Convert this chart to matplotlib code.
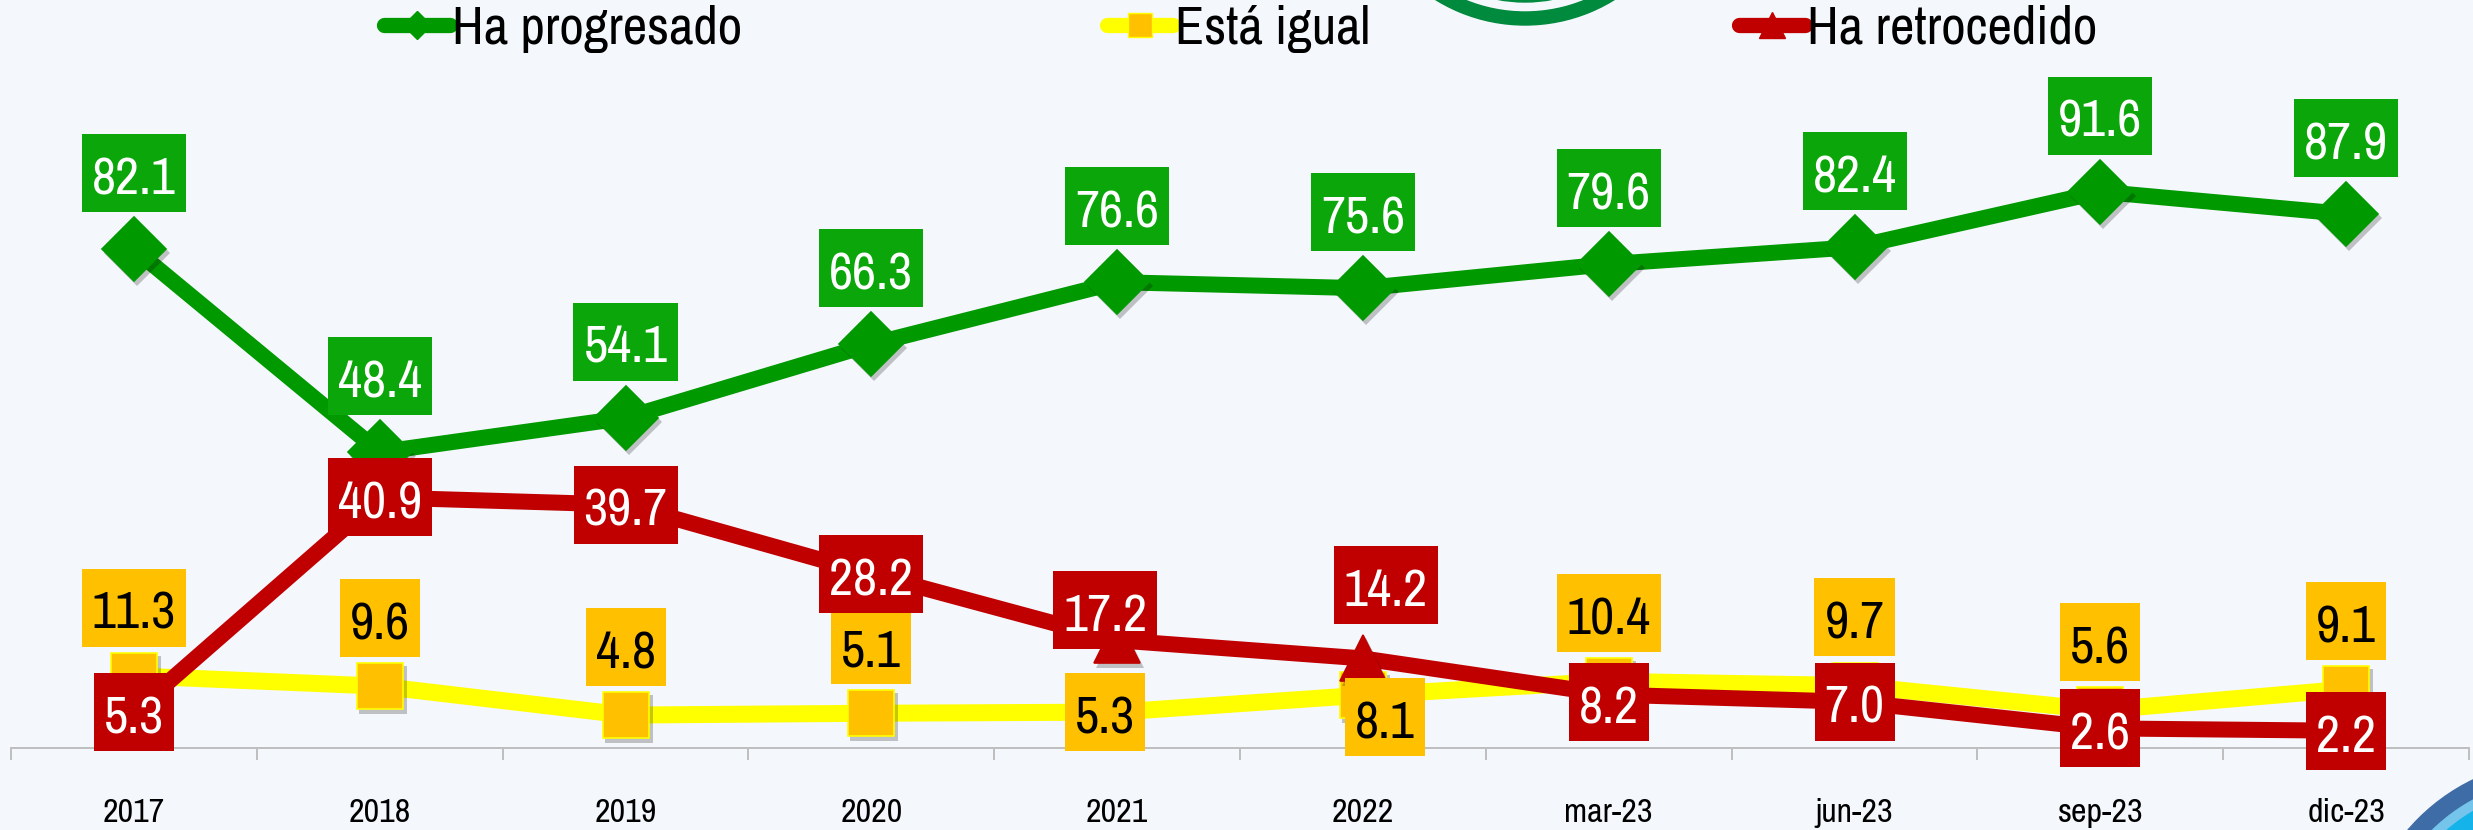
import os
import numpy as np
import matplotlib
matplotlib.use('Agg')
import matplotlib.pyplot as plt
from matplotlib import font_manager as fm
from matplotlib.font_manager import FontProperties
from matplotlib.lines import Line2D
from matplotlib.patches import Wedge, Circle
from matplotlib.path import Path
from matplotlib.textpath import TextPath
import matplotlib.transforms as mtransforms

# ---------------- data ----------------
categories = ['2017', '2018', '2019', '2020', '2021', '2022',
              'mar-23', 'jun-23', 'sep-23', 'dic-23']
progresado = [82.1, 48.4, 54.1, 66.3, 76.6, 75.6, 79.6, 82.4, 91.6, 87.9]
igual = [11.3, 9.6, 4.8, 5.1, 5.3, 8.1, 10.4, 9.7, 5.6, 9.1]
retrocedido = [5.3, 40.9, 39.7, 28.2, 17.2, 14.2, 8.2, 7.0, 2.6, 2.2]
series_labels = ['Ha progresado', 'Está igual', 'Ha retrocedido']

# ---------------- style ----------------
W, H, DPI = 2473, 830, 100
PX = 72.0 / DPI
BG = '#F4F7FC'
GREEN_LINE, GREEN_BOX = '#009900', '#0AA60A'
YEL_LINE, YEL_MARK, YEL_BOX = '#FFFF00', '#FFC000', '#FFC000'
RED = '#C00000'

# label box centre offsets in pixels (dx, dy-up) relative to the point
green_off = [(0, 76)] * 10
yellow_off = [(0, 68)] * 4 + [(-12, 0), (22, -22)] + [(0, 68)] * 4
red_off = [(0, 0)] * 4 + [(-12, 30), (23, 73)] + [(0, -8)] + [(0, 0)] * 3


# ---------------- font choice (narrowest regular sans available) ----------------
def pick_font():
    fam_pref = ['liberation', 'roboto', 'noto', 'open', 'lato', 'inter', 'dejavu']
    best, best_score = None, -1
    for f in fm.fontManager.ttflist:
        key = (os.path.basename(f.fname) + ' ' + f.name).lower()
        if f.style != 'normal':
            continue
        w = f.weight
        if isinstance(w, str):
            w = {'normal': 400, 'regular': 400, 'book': 400}.get(w.lower(), 0)
        if w not in (400,):
            continue
        if 'mono' in key or 'serif' in key and 'sans' not in key or 'cjk' in key:
            continue
        score = 0
        if 'narrow' in key:
            score = 10
        elif 'extracondensed' in key or 'extra condensed' in key:
            score = 7
        elif 'semicondensed' in key or 'semi condensed' in key:
            score = 6
        elif 'condensed' in key:
            score = 9
        elif str(f.stretch) in ('condensed', 'semi-condensed'):
            score = 5
        if score == 0:
            continue
        fam_bonus = 0
        for k, p in enumerate(fam_pref):
            if p in key:
                fam_bonus = (len(fam_pref) - k) * 0.01
                break
        if score + fam_bonus > best_score:
            best, best_score = f.fname, score + fam_bonus
    if best is not None:
        return FontProperties(fname=best)
    names = {f.name for f in fm.fontManager.ttflist}
    return FontProperties(family='Roboto' if 'Roboto' in names else 'DejaVu Sans')


FP = pick_font()


def ratios(fp):
    H_ = TextPath((0, 0), 'H', size=100, prop=fp).get_extents()
    p_ = TextPath((0, 0), 'p', size=100, prop=fp).get_extents()
    return H_.y1 / 100.0, -p_.y0 / 100.0


CAP, DESC = ratios(FP)

fig = plt.figure(figsize=(W / DPI, H / DPI), dpi=DPI, facecolor=BG)
_r = fig.canvas.get_renderer()


def width_px(s, size_px):
    t = fig.text(0, 0, s, fontproperties=FP, fontsize=size_px * PX)
    w = t.get_window_extent(_r).width
    t.remove()
    return w


def fit_size(sample, target_w, target_cap):
    s_cap = target_cap / CAP
    s_w = target_w / width_px(sample, 100) * 100
    return min(s_cap, (s_cap * s_w) ** 0.5)


LBL_PX = fit_size('39.7', 80, 38)
TICK_PX = fit_size('2017', 58, 25)
LEG_PX = fit_size('Ha progresado', 280, 38)


class LabelBox:
    """Fixed-height box centred on the digits of the label."""

    def __init__(self, height_px, padx_px, lift_px):
        self.h, self.padx, self.lift = height_px, padx_px, lift_px

    def __call__(self, x0, y0, width, height, mutation_size):
        base = y0 + DESC * mutation_size
        yc = base + CAP * mutation_size / 2 + self.lift
        xa, xb = x0 - self.padx, x0 + width + self.padx
        ya, yb = yc - self.h / 2, yc + self.h / 2
        return Path([(xa, ya), (xb, ya), (xb, yb), (xa, yb), (xa, ya)], closed=True)


LIFT = 3
BOX = LabelBox(78, 10, LIFT)

# decorative logo fragments
deco = fig.add_axes([0, 0, 1, 1], zorder=0)
deco.set_xlim(0, W)
deco.set_ylim(H, 0)
deco.axis('off')
deco.add_patch(Wedge((1525, -145), 170, 0, 360, width=13, color='#008A3E'))
deco.add_patch(Wedge((1525, -145), 147, 0, 360, width=12, color='#008A3E'))
deco.add_patch(Circle((2560, 960), 200, color='#3E6CA6'))
deco.add_patch(Circle((2560, 960), 182, color='#74C4EC'))
deco.add_patch(Circle((2560, 960), 172, color='#14B4EA'))

ax = fig.add_axes([11.1 / W, (H - 748) / H, (2469 - 11.1) / W, 748 / H], zorder=1)
ax.set_facecolor('none')
ax.set_xlim(-0.5, 9.5)
ax.set_ylim(-0.66, 123.4)
for s in ['left', 'right', 'top']:
    ax.spines[s].set_visible(False)
ax.spines['bottom'].set_color('#BFBFBF')
ax.spines['bottom'].set_linewidth(2 * PX)
ax.set_yticks([])
x = np.arange(len(categories))
ax.set_xticks(x)
ax.set_xticklabels(categories, fontproperties=FP, fontsize=TICK_PX * PX, color='black')
ax.set_xticks(np.arange(-0.5, len(categories), 1), minor=True)
ax.tick_params(axis='x', which='major', length=0, pad=36)
ax.tick_params(axis='x', which='minor', length=12 * PX, width=2 * PX,
               color='#BFBFBF', direction='out')

shadow_tr = mtransforms.offset_copy(ax.transData, fig=fig, x=3, y=-4, units='dots')

series = [
    (progresado, GREEN_LINE, 'D', GREEN_LINE, GREEN_LINE, 16, GREEN_BOX, 'white', green_off),
    (igual, YEL_LINE, 's', YEL_MARK, YEL_LINE, 17, YEL_BOX, 'black', yellow_off),
    (retrocedido, RED, '^', RED, RED, 16, RED, 'white', red_off),
]

z = 2
for vals, lc, mk, mfc, mec, lw, bc, tc, offs in series:
    ax.plot(x, vals, color=lc, lw=lw * PX, solid_joinstyle='round', zorder=z)
    ax.plot(x, vals, linestyle='none', marker=mk, ms=34, color='black',
            alpha=0.22, markeredgewidth=0, transform=shadow_tr, zorder=z + 0.5)
    ax.plot(x, vals, linestyle='none', marker=mk, ms=33, markerfacecolor=mfc,
            markeredgecolor=mec, markeredgewidth=1.2, zorder=z + 1)
    z += 3

zl = 20
for vals, lc, mk, mfc, mec, lw, bc, tc, offs in series:
    for i, v in enumerate(vals):
        dx, dy = offs[i]
        base_dy = dy - LIFT - CAP * LBL_PX / 2
        ax.annotate(f'{v:.1f}', (i, v), xytext=(dx * PX, base_dy * PX),
                    textcoords='offset points', ha='center', va='baseline',
                    fontproperties=FP, fontsize=LBL_PX * PX, color=tc, zorder=zl,
                    bbox=dict(boxstyle=BOX, fc=bc, ec='none'))
    zl += 1

leg_specs = [
    (dict(color=GREEN_LINE, marker='D', ms=14, markerfacecolor=GREEN_LINE,
          markeredgecolor=GREEN_LINE), 384),
    (dict(color=YEL_LINE, marker='s', ms=17, markerfacecolor=YEL_MARK,
          markeredgecolor=YEL_LINE), 1107),
    (dict(color=RED, marker='^', ms=19, markerfacecolor=RED,
          markeredgecolor=RED), 1739),
]
leg_prop = FP.copy()
leg_prop.set_size(LEG_PX * PX)
for (kw, xl), lab in zip(leg_specs, series_labels):
    h = Line2D([], [], lw=11, solid_capstyle='round', **kw)
    fig.legend([h], [lab], loc='center left', bbox_to_anchor=(xl / W, 1 - 29 / H),
               frameon=False, borderpad=0, borderaxespad=0,
               handlelength=66 / LEG_PX, handletextpad=0.04, prop=leg_prop)

fig.savefig('out.png', dpi=DPI, facecolor=BG)
